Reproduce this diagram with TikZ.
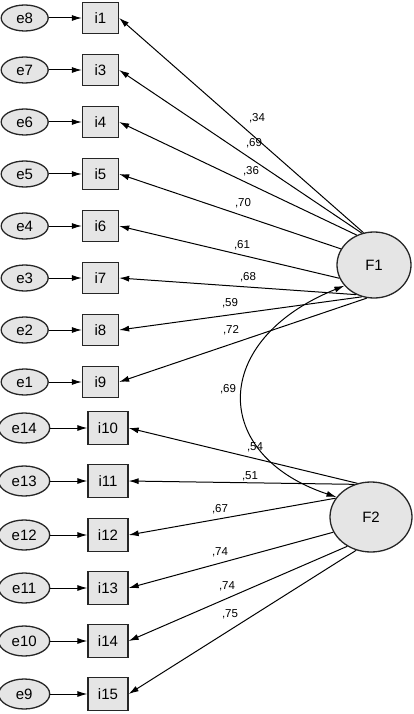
\documentclass[tikz,border=0pt]{standalone}
\usepackage{fontspec}
\setmainfont{Liberation Sans}
\usepackage{tikz}
\usetikzlibrary{positioning,arrows.meta,shapes.geometric}
\tikzset{
item/.style={
draw=black!85,
line width=1.3pt,
fill=black!10,
minimum width=36pt,
minimum height=31pt,
inner sep=0pt,
font=\fontsize{15}{15}\selectfont
},
bigitem/.style={
item,
minimum width=40pt,
minimum height=33pt
},
err/.style={
ellipse,
draw=black!85,
line width=1.3pt,
fill=black!10,
minimum width=47pt,
minimum height=26pt,
inner sep=0pt,
font=\fontsize{15}{15}\selectfont
},
bigerr/.style={
err,
minimum width=51pt,
minimum height=30pt
},
factor/.style={
ellipse,
draw=black!85,
line width=1.3pt,
fill=black!10,
minimum width=74pt,
minimum height=66pt,
inner sep=0pt,
font=\fontsize{15}{15}\selectfont
},
lab/.style={
inner sep=0pt,
font=\fontsize{11.5}{11.5}\selectfont
},
arrow/.style={
-{Latex[length=10pt,width=6pt]},
line width=1pt
},
cov/.style={
{Latex[length=10pt,width=6pt]}-{Latex[length=10pt,width=6pt]},
line width=1pt
}
}
\begin{document}
\begin{tikzpicture}[x=1pt,y=-1pt,node distance=33pt]
\useasboundingbox (0,0) rectangle (414,714);
\node[factor](F1) at (374,265){F1};
\node[factor,minimum width=82pt,minimum height=70pt](F2) at (371,517){F2};

\foreach \i/\e/\y in {1/8/18,3/7/70,4/6/122,5/5/174,6/4/226,7/3/278,8/2/330,9/1/382}{
\node[item](i\i) at (100.5,\y){i\i};
\node[err,left=of i\i](e\e){e\e};
\draw[arrow](e\e)--(i\i);
}
\foreach \i/\e/\y in {10/14/428,11/13/481,12/12/535,13/11/588,14/10/641,15/9/694}{
\node[bigitem](i\i) at (108,\y){i\i};
\node[bigerr,left=37pt of i\i](e\e){e\e};
\draw[arrow](e\e)--(i\i);
}

\foreach \i/\a/\v/\x/\y in {1/108/34/257/118,3/111/69/254/143,4/120/36/251/171,5/154/70/243/203,6/201/61/242/245,7/239/68/248/277,8/249/59/230/303,9/258/72/231/330}{
\draw[arrow](F1.\a)--(i\i.east);
\node[lab](l\i) at (\x,\y){,\v};
}
\foreach \i/\a/\v/\x/\y in {10/112/54/255/447,11/117/51/250/476,12/152/67/220/509,13/202/74/220/552,14/231/74/227/586,15/246/75/230/614}{
\draw[arrow](F2.\a)--(i\i.east);
\node[lab](l\i) at (\x,\y){,\v};
}

\draw[cov](F1.215) .. controls (210,340) and (210,455) .. (F2.150);
\node[lab](lc) at (228,389){,69};
\end{tikzpicture}
\end{document}
